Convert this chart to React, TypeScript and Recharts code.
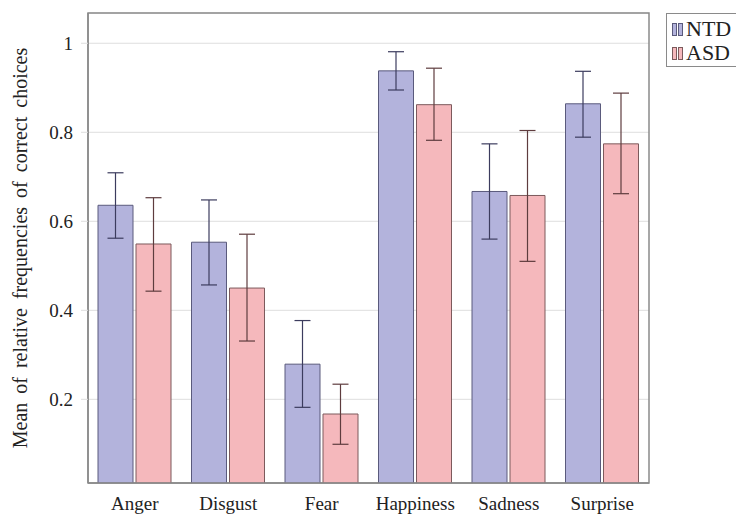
import React from 'react';
import {
  BarChart,
  Bar,
  XAxis,
  YAxis,
  CartesianGrid,
  ErrorBar,
  ReferenceArea
} from 'recharts';

const categories = ['Anger', 'Disgust', 'Fear', 'Happiness', 'Sadness', 'Surprise'];

const ntdMean = [0.636, 0.553, 0.279, 0.938, 0.667, 0.864];
const ntdLow = [0.562, 0.457, 0.182, 0.895, 0.560, 0.789];
const ntdHigh = [0.709, 0.648, 0.377, 0.981, 0.774, 0.937];

const asdMean = [0.549, 0.450, 0.167, 0.862, 0.658, 0.774];
const asdLow = [0.443, 0.331, 0.099, 0.782, 0.510, 0.662];
const asdHigh = [0.653, 0.571, 0.234, 0.944, 0.804, 0.888];

const yTicks = [0.2, 0.4, 0.6, 0.8, 1];
const yDomain = [0.012, 1.068];

const seriesNames = ['NTD', 'ASD'];

// Colors
const ntdFill = '#b3b3dc';
const ntdStroke = '#5a5a7c';
const ntdErr = '#3c3c5e';
const asdFill = '#f5b8bc';
const asdStroke = '#7c5a5c';
const asdErr = '#5e3c3e';
const frameColor = '#8a8a8a';
const gridColor = '#dedede';
const textColor = '#222';

const fontStack = '"Times New Roman", "Liberation Serif", Tinos, "DejaVu Serif", serif';

const data = categories.map((name, i) => ({
  name,
  NTD: ntdMean[i],
  ASD: asdMean[i],
  ntdErr: [ntdMean[i] - ntdLow[i], ntdHigh[i] - ntdMean[i]],
  asdErr: [asdMean[i] - asdLow[i], asdHigh[i] - asdMean[i]]
}));

const LegendIcon = ({ fill, stroke }: { fill: string; stroke: string }) => (
  <span style={{ display: 'inline-flex', gap: 1, marginRight: 3, alignItems: 'center' }}>
    <span style={{ width: 3, height: 11, background: fill, border: `1px solid ${stroke}` }} />
    <span style={{ width: 3, height: 11, background: fill, border: `1px solid ${stroke}` }} />
  </span>
);

const App: React.FC = () => {
  const tickStyle = { fill: textColor, fontSize: 19, fontFamily: fontStack };

  return (
    <div
      style={{
        position: 'absolute',
        left: 0,
        top: 0,
        width: 736,
        height: 515,
        overflow: 'hidden',
        background: '#fff',
        fontFamily: fontStack
      }}
    >
      <BarChart
        width={736}
        height={515}
        data={data}
        margin={{ top: 13, right: 87, bottom: 0, left: 8 }}
        barSize={35}
        barGap={3}
        style={{ fontFamily: fontStack }}
      >
        <CartesianGrid vertical={false} stroke={gridColor} strokeWidth={1} />
        <XAxis
          dataKey="name"
          height={32}
          tickLine={false}
          tickSize={6}
          tickMargin={8}
          axisLine={{ stroke: frameColor, strokeWidth: 1.5 }}
          tick={tickStyle}
        />
        <YAxis
          width={80}
          domain={yDomain}
          allowDataOverflow
          ticks={yTicks}
          tickFormatter={(v: number) => String(v)}
          tickSize={7}
          tickMargin={8}
          tickLine={{ stroke: gridColor }}
          axisLine={{ stroke: frameColor, strokeWidth: 1.5 }}
          tick={tickStyle}
          label={{
            value: 'Mean of relative frequencies of correct choices',
            angle: -90,
            position: 'insideLeft',
            offset: 12,
            style: { textAnchor: 'middle', fill: textColor, fontSize: 20, fontFamily: fontStack, wordSpacing: 4 }
          }}
        />
        <ReferenceArea
          y1={yDomain[0]}
          y2={yDomain[1]}
          fill="none"
          stroke={frameColor}
          strokeWidth={1.5}
          ifOverflow="visible"
        />
        <Bar dataKey="NTD" fill={ntdFill} stroke={ntdStroke} strokeWidth={1} isAnimationActive={false}>
          <ErrorBar dataKey="ntdErr" width={8} stroke={ntdErr} strokeWidth={1.2} direction="y" />
        </Bar>
        <Bar dataKey="ASD" fill={asdFill} stroke={asdStroke} strokeWidth={1} isAnimationActive={false}>
          <ErrorBar dataKey="asdErr" width={8} stroke={asdErr} strokeWidth={1.2} direction="y" />
        </Bar>
      </BarChart>
      <div
        style={{
          position: 'absolute',
          left: 666,
          top: 13,
          width: 110,
          height: 54,
          border: `1px solid ${frameColor}`,
          background: '#fff',
          boxSizing: 'border-box',
          padding: '3px 0 0 5px',
          fontSize: 22,
          lineHeight: '24px',
          color: textColor
        }}
      >
        {seriesNames.map((s, i) => (
          <div key={s} style={{ display: 'flex', alignItems: 'center', height: 24 }}>
            <LegendIcon fill={i === 0 ? ntdFill : asdFill} stroke={i === 0 ? ntdStroke : asdStroke} />
            <span>{s}</span>
          </div>
        ))}
      </div>
    </div>
  );
};

export default App;
